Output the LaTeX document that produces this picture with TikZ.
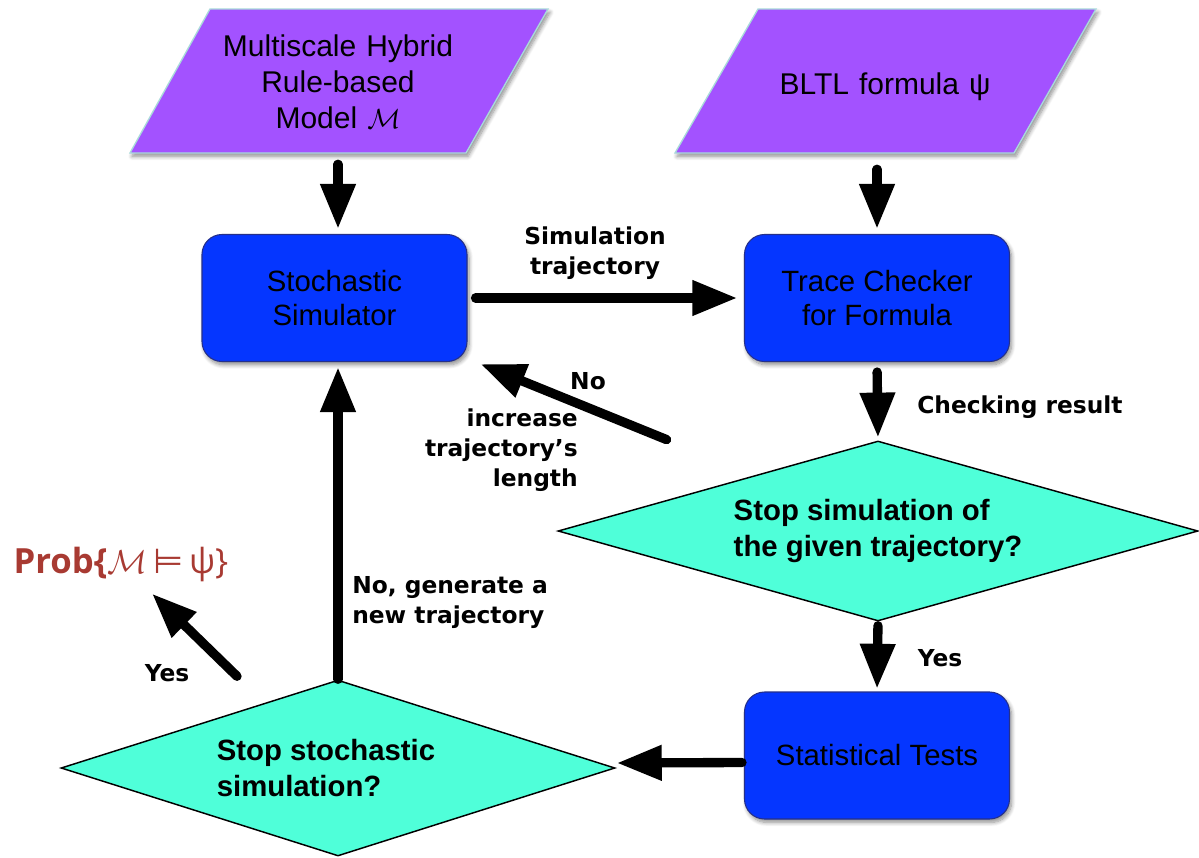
\documentclass[tikz,border=0pt]{standalone}
\usepackage{fontspec}
\setmainfont{Liberation Sans}
\newfontfamily\lblfont{DejaVu Sans}
\newfontfamily\probfont{Open Sans}
\usetikzlibrary{arrows.meta,shapes.geometric,calc,shadows.blur}

\definecolor{paraviolet}{HTML}{A352FF}
\definecolor{paraedge}{HTML}{A9DADB}
\definecolor{procblue}{HTML}{0536FF}
\definecolor{procedge}{HTML}{25308A}
\definecolor{decaqua}{HTML}{4FFFD9}
\definecolor{probred}{HTML}{A83A32}

\begin{document}
\begin{tikzpicture}[x=0.75pt,y=-0.75pt,
  softshadow/.style={blur shadow={shadow xshift=1.5pt, shadow yshift=-2.5pt,
      shadow blur radius=3pt, shadow blur steps=8, shadow opacity=45}},
  inputshape/.style={fill=paraviolet, draw=paraedge, line width=1pt, softshadow},
  inputtext/.style={inner sep=0pt, minimum height=108pt, text width=200pt, align=center,
      font=\fontsize{22.5pt}{27pt}\selectfont},
  procbox/.style={rectangle, rounded corners=15pt, fill=procblue, draw=procedge,
      line width=0.8pt, minimum width=198.75pt, minimum height=95.25pt, inner sep=0pt,
      align=center, softshadow, font=\fontsize{22pt}{26pt}\selectfont},
  decision/.style={diamond, aspect=3.55, fill=decaqua, draw=black, line width=1.1pt,
      inner sep=0pt, minimum width=480pt, minimum height=135pt, align=left,
      font=\bfseries\fontsize{22pt}{27.5pt}\selectfont},
  lbl/.style={inner sep=0pt, font=\lblfont\bfseries\fontsize{17.5pt}{22.5pt}\selectfont},
  flow/.style={draw=black, line width=7pt, line cap=round, fill opacity=1, draw opacity=1,
      -{Triangle[length=33.75pt,width=25pt,fill=black]}}
]
\useasboundingbox (0,0) rectangle (1199,857);

% input parallelograms
\path[inputshape] (130,153) -- (210,9) -- (548,9) -- (466,153) -- cycle;
\node[inputtext] (model) at (338,82) {Multiscale Hybrid\\Rule-based\\Model $\mathcal{M}$};
\path[inputshape] (675,153) -- (758,9) -- (1096,9) -- (1014,153) -- cycle;
\node[inputtext] (formula) at (885,87) {BLTL formula ψ};

% processes and decisions
\node[procbox] (sim) at (334.5,298) {Stochastic\\Simulator};
\node[procbox] (checker) at (877,298) {Trace Checker\\for Formula};
\node[procbox] (stats) at (877,755.5) {Statistical Tests};
\node[decision] (stoptraj) at (878,531) {Stop simulation of\\the given trajectory?};
\node[decision, minimum width=415.5pt, minimum height=132pt] (stopsim) at (338,768)
  {Stop stochastic\hspace*{18pt}\\simulation?};

% result
\node[inner sep=0pt, text=probred, font=\fontsize{26pt}{30pt}\selectfont] (prob) at (121,564)
  {{\probfont\bfseries Prob\{}$\mathcal{M}$\,{\lblfont ⊨}\,{\probfont ψ\}}};

% connectors
\draw[flow, shorten <=7.5pt, shorten >=3.75pt] (model.south) -- (model.south |- sim.north);
\draw[flow, shorten <=7.5pt, shorten >=3.75pt] (formula.south -| checker.north) -- (checker.north);
\draw[flow, shorten <=6pt, shorten >=5pt] (sim.east) -- (checker.west);
\node[lbl, align=center] (simlbl) at (595,253) {Simulation\\trajectory};

\draw[flow, shorten <=7.5pt, shorten >=2pt] (checker.south) -- (stoptraj.north);
\node[lbl, anchor=west] (checklbl) at (917,407) {Checking result};

\draw[flow] ($(stoptraj.north west)+(-51,-46)$) -- ($(sim.south east)+(13,2)$);
\node[lbl] (nolbl) at (588,381) {No};
\node[lbl, align=right, anchor=east] (incrlbl) at (578,450) {increase\\trajectory’s\\length};

\draw[flow, shorten <=3pt, shorten >=2pt] (stoptraj.south) -- (stats.north);
\node[lbl] (yeslbl) at (940,658) {Yes};

\draw[flow] ($(stats.west)+(-2,7)$) -- ($(stopsim.east)+(1,-5)$);

\draw[flow, shorten >=3.75pt] (stopsim.north) -- (stopsim.north |- sim.south);
\node[lbl, align=left, anchor=west] (newlbl) at (352,603) {No, generate a\\new trajectory};

\draw[flow] ($(stopsim.north)+(-101,-3)$) -- ($(prob.south)+(31,12)$);
\node[lbl] (doneyes) at (167,673) {Yes};
\end{tikzpicture}
\end{document}
